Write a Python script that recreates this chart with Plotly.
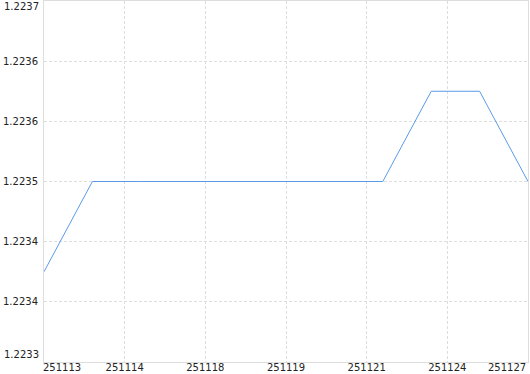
import numpy as np
import plotly.graph_objects as go

values = [1.2234, 1.2235, 1.2235, 1.2235, 1.2235, 1.2235, 1.2235, 1.2235, 1.2236, 1.2236, 1.2235]
x_tick_labels = ["251113", "251114", "251118", "251119", "251121", "251124", "251127"]
y_min, y_max = 1.2233, 1.2237
n_y_ticks = 7

x = list(range(len(values)))
xt = np.linspace(0, len(values) - 1, len(x_tick_labels))
yt = np.linspace(y_min, y_max, n_y_ticks)
ytext = [f"{v:.4f}" for v in yt]

font = dict(family="DejaVu Sans, Verdana, sans-serif", size=10, color="#222")
grid = "#dddddd"
dash = "3px,2px"

fig = go.Figure()
fig.add_trace(go.Scatter(x=x, y=values, mode="lines",
                         line=dict(color="#5b9bea", width=1), hoverinfo="skip"))

fig.update_layout(
    width=530, height=374,
    margin=dict(l=44, r=2, t=1, b=12, autoexpand=False),
    plot_bgcolor="white", paper_bgcolor="white",
    showlegend=False,
    font=font,
)
fig.update_xaxes(
    range=[0, len(values) - 1], automargin=False,
    tickvals=list(xt[1:-1]), ticktext=x_tick_labels[1:-1],
    showgrid=True, gridcolor=grid, griddash=dash, gridwidth=1,
    showline=True, linecolor=grid, linewidth=1, mirror=True,
    zeroline=False, ticks="", tickfont=font, ticklabelstandoff=-4,
)
fig.update_yaxes(
    range=[y_min, y_max], automargin=False,
    tickvals=list(yt[1:-1]), ticktext=ytext[1:-1],
    showgrid=True, gridcolor=grid, griddash=dash, gridwidth=1,
    showline=True, linecolor=grid, linewidth=1, mirror=True,
    zeroline=False, ticks="", tickfont=font, ticklabelstandoff=3,
)

# edge labels clamped inside the figure
fig.add_annotation(x=xt[0], xref="x", y=0, yref="paper", text=x_tick_labels[0],
                   xanchor="left", yanchor="top", showarrow=False, font=font,
                   xshift=-3, yshift=2)
fig.add_annotation(x=xt[-1], xref="x", y=0, yref="paper", text=x_tick_labels[-1],
                   xanchor="right", yanchor="top", showarrow=False, font=font,
                   xshift=0, yshift=2)
fig.add_annotation(x=0, xref="paper", y=yt[-1], yref="y", text=ytext[-1],
                   xanchor="right", yanchor="top", showarrow=False, font=font,
                   xshift=-3, yshift=2)
fig.add_annotation(x=0, xref="paper", y=yt[0], yref="y", text=ytext[0],
                   xanchor="right", yanchor="bottom", showarrow=False, font=font,
                   xshift=-3, yshift=0)

fig.write_html("out.html")
